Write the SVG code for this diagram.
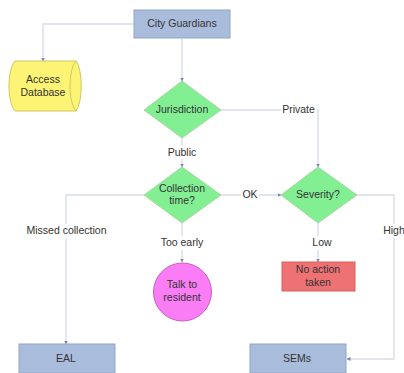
<svg xmlns="http://www.w3.org/2000/svg" width="404" height="373" viewBox="0 0 404 373">
<defs>
<marker id="a" markerWidth="4" markerHeight="4" refX="3.5" refY="2" orient="auto" markerUnits="userSpaceOnUse"><path d="M0 0L4 2L0 4Z" fill="#7b86b5"/></marker>
</defs>
<style>
text{font-family:"Liberation Sans",Arial,sans-serif;font-size:10.5px;fill:#333;text-anchor:middle}
.c{fill:none;stroke:#d9dde9;stroke-width:1.4;marker-end:url(#a)}
.r{fill:#a9bcdc;stroke:#93a6c8;stroke-width:1}
.d{fill:#82ef93;stroke:#a8d8a0;stroke-width:1}
</style>
<rect width="404" height="373" fill="#fff"/>
<g id="connectors">
<path class="c" d="M134 24H43V61"/>
<path class="c" d="M182 39V81"/>
<path class="c" d="M182 138V167"/>
<path class="c" d="M221 110H318V167"/>
<path class="c" d="M221 195H281"/>
<path class="c" d="M144 195H66V344"/>
<path class="c" d="M182 223V262"/>
<path class="c" d="M318 223V262"/>
<path class="c" d="M357 195H394V359H347"/>
</g>
<g id="labels">
<rect x="167" y="145" width="32" height="14" fill="#fff"/><text x="182" y="156">Public</text>
<rect x="281" y="103" width="36" height="14" fill="#fff"/><text x="298.500" y="113">Private</text>
<rect x="241" y="188" width="18" height="14" fill="#fff"/><text x="250" y="198">OK</text>
<rect x="25" y="224" width="83" height="14" fill="#fff"/><text x="66.500" y="234">Missed collection</text>
<rect x="159" y="236" width="46" height="14" fill="#fff"/><text x="182" y="246">Too early</text>
<rect x="311" y="236" width="22" height="14" fill="#fff"/><text x="322" y="246">Low</text>
<rect x="382" y="224" width="22" height="14" fill="#fff"/><text x="394" y="234">High</text>
</g>
<g id="city-guardians"><rect class="r" x="134" y="10" width="96" height="28"/><text x="182" y="27">City Guardians</text></g>
<g id="access-database"><path d="M15 61H76C83 70 83 102 76 111H15C7 102 7 70 15 61Z" fill="#fdf475" stroke="#cfc760"/><path d="M76 61C68 70 68 102 76 111" fill="none" stroke="#cfc760"/><text x="43" y="83">Access</text><text x="43" y="96">Database</text></g>
<g id="jurisdiction"><path class="d" d="M182 81L221 110L182 138L144 110Z"/><text x="182" y="113">Jurisdiction</text></g>
<g id="collection-time"><path class="d" d="M182 167L221 195L182 223L144 195Z"/><text x="182" y="192">Collection</text><text x="182" y="204">time?</text></g>
<g id="severity"><path class="d" d="M318 167L357 195L318 223L281 195Z"/><text x="318" y="198">Severity?</text></g>
<g id="talk-to-resident"><circle cx="182.500" cy="292" r="29" fill="#fb7df6" stroke="#c860c0"/><text x="182" y="288">Talk to</text><text x="182" y="301">resident</text></g>
<g id="no-action-taken"><rect x="282" y="262" width="73" height="29" fill="#ee7273" stroke="#d86060"/><text x="318" y="273">No action</text><text x="318" y="286">taken</text></g>
<g id="eal"><rect class="r" x="19" y="344" width="96" height="29"/><text x="66" y="362">EAL</text></g>
<g id="sems"><rect class="r" x="250" y="344" width="96" height="29"/><text x="297" y="362">SEMs</text></g>
</svg>
